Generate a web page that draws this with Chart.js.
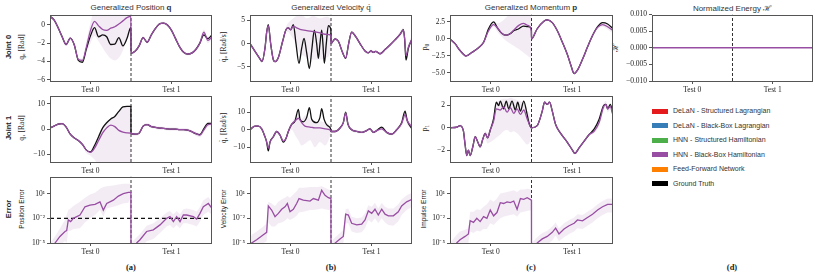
<!DOCTYPE html>
<html>
<head>
<meta charset="utf-8">
<script src="https://cdn.jsdelivr.net/npm/chart.js@4.4.0/dist/chart.umd.min.js"></script>
<style>
  body { margin: 0; width: 830px; height: 277px; position: relative; overflow: hidden; background: #fff; }
  canvas { position: absolute; }
  .t { position: absolute; white-space: nowrap; color: #222; transform: translate(-50%, -50%); }
  .r { transform: translate(-50%, -50%) rotate(-90deg); }
  .sans { font-family: 'Liberation Sans', sans-serif; }
  .serif { font-family: 'Liberation Serif', serif; }
  .leg { position: absolute; left: 652px; font: 7px 'Liberation Sans', sans-serif; color: #333; }
  .leg span { display: inline-block; width: 16px; height: 5px; margin-right: 5px; vertical-align: middle; }
</style>
</head>
<body>
<script>
// x axis: Test 0 on [0,1], Test 1 on [1,2]
const tickLabels = ['Test 0', 'Test 1'];

const gridT = [0,0.05,0.1,0.15,0.2,0.25,0.3,0.35,0.4,0.45,0.5,0.55,0.6,0.65,0.7,0.75,0.8,0.85,0.9,0.95,0.999,
  1,1.05,1.1,1.15,1.2,1.25,1.3,1.35,1.4,1.45,1.5,1.55,1.6,1.65,1.7,1.75,1.8,1.85,1.9,1.95,2];

// Generalized position, joint 0 / joint 1
const posJ0Pred = [0.95,0.55,-0.3,-1.3,-2.15,-1.45,-2.2,-3.8,-3.9,-2.4,-0.6,0.4,-0.1,-0.5,-0.6,-0.35,-0.2,0.1,0.45,0.8,0.95,
  -3.1,-2.9,-2.3,-1.4,-1.9,-1.1,-0.4,0.1,0.2,0.0,-0.6,-1.5,-2.4,-3.0,-3.2,-3.1,-2.7,-2.0,-0.8,-1.7,-1.3];
const posJ0True = [0.95,0.55,-0.3,-1.3,-2.15,-1.45,-2.2,-3.9,-4.1,-2.6,-1.2,-0.3,-1.3,-1.1,-1.3,-2.15,-2.1,-1.4,-2.3,-1.5,-0.25,
  -3.1,-2.9,-2.3,-1.4,-1.9,-1.1,-0.4,0.1,0.2,0.0,-0.6,-1.5,-2.4,-3.0,-3.2,-3.1,-2.7,-2.0,-1.1,-1.5,-1.1];
const posJ0Lo = [0.8,0.4,-0.45,-1.45,-2.3,-1.6,-2.35,-3.95,-4.1,-3.0,-2.0,-1.2,-1.8,-2.5,-3.2,-3.7,-3.9,-3.6,-2.8,-1.5,0.3,
  -3.25,-3.05,-2.45,-1.6,-2.05,-1.25,-0.55,-0.05,0.05,-0.15,-0.75,-1.65,-2.55,-3.15,-3.35,-3.25,-2.85,-2.2,-1.2,-2.0,-1.6];
const posJ0Hi = [1.1,0.7,-0.15,-1.15,-2.0,-1.3,-2.05,-3.6,-3.7,-1.8,0.3,1.5,1.5,1.5,1.5,1.5,1.5,1.5,1.5,1.5,1.5,
  -2.95,-2.75,-2.15,-1.2,-1.75,-0.95,-0.25,0.25,0.35,0.15,-0.45,-1.35,-2.25,-2.85,-3.05,-2.95,-2.55,-1.8,-0.5,-1.4,-1.0];

const posJ1Pred = [0.5,1.2,2.0,2.2,0.8,-2.0,-3.5,-4.5,-6.0,-8.3,-9.2,-7.5,-4.5,-1.5,0.5,1.6,1.0,-0.5,-1.2,-1.5,-1.6,
  -1.7,-2.0,-1.6,1.2,1.8,1.0,0.7,0.4,0.3,0.1,0.0,0.0,-0.2,-0.2,-0.4,-1.0,-1.8,-2.4,-0.3,1.8,2.0];
const posJ1True = [0.5,1.2,2.0,2.2,0.8,-2.0,-3.5,-4.5,-6.0,-8.3,-9.0,-6.5,-3.0,0.5,2.5,4.0,5.0,7.0,8.8,9.0,9.0,
  -1.7,-2.0,-1.6,1.2,1.8,1.0,0.7,0.4,0.3,0.1,0.0,0.0,-0.2,-0.2,-0.4,-1.0,-1.8,-2.2,0.2,2.3,2.3];
const posJ1Lo = [0.1,0.8,1.6,1.8,0.4,-2.4,-3.9,-4.9,-7.0,-9.5,-10.5,-12,-14,-14,-14,-14,-14,-14,-14,-14,-14,
  -2.3,-2.6,-2.2,0.6,1.2,0.4,0.1,-0.2,-0.3,-0.5,-0.6,-0.6,-0.8,-0.8,-1.0,-1.6,-2.6,-3.2,-1.2,0.8,1.0];
const posJ1Hi = [0.9,1.6,2.4,2.6,1.2,-1.6,-3.1,-4.1,-5.6,-8.0,-8.8,-6.5,-3.0,0.5,2.5,4.0,5.0,6.8,8.5,8.8,8.8,
  -1.1,-1.4,-1.0,1.8,2.4,1.6,1.3,1.0,0.9,0.7,0.6,0.6,0.4,0.4,0.2,-0.4,-1.0,-1.6,0.6,2.8,3.0];

// Generalized velocity, joint 0
const velJ0PredX = [0,0.062,0.123,0.148,0.185,0.206,0.226,0.255,0.288,0.309,0.35,0.403,0.444,0.473,0.502,0.535,0.576,0.617,0.7,0.782,0.864,0.947,0.999,
  1,1.049,1.091,1.144,1.181,1.218,1.255,1.305,1.358,1.42,1.461,1.494,1.523,1.551,1.605,1.667,1.728,1.79,1.852,1.893,1.909,1.926,1.955,2];
const velJ0Pred = [0,-1.7,-3.3,-3.9,-1.0,2.5,3.9,0.0,-3.5,-3.9,-3.0,0.5,3.0,3.4,3.0,3.8,3.4,3.1,2.8,2.6,2.3,2.0,1.8,
  0,1.0,0.5,-2,-3.1,0,2.5,1.5,0,-1.6,-2.0,-1.6,-1.9,-1.7,-2.2,-1.3,-0.3,0.8,2.0,2.9,1.2,-2.6,-0.8,1.0];
const velJ0Lo = [-0.2,-1.9,-3.5,-4.1,-1.3,2.2,3.6,-0.3,-3.8,-4.2,-3.3,0.2,2.5,2.5,1.8,1.0,-0.5,-2.0,-3.0,-3.5,-3.5,-3.0,-1.0,
  -0.3,0.7,0.2,-2.3,-3.4,-0.3,2.2,1.2,-0.3,-1.9,-2.3,-1.9,-2.2,-2.0,-2.5,-1.6,-0.6,0.4,1.5,2.3,0.4,-3.4,-1.6,0.2];
const velJ0Hi = [0.2,-1.5,-3.1,-3.7,-0.7,2.8,4.3,0.3,-3.2,-3.6,-2.7,0.8,3.6,4.5,5.0,5.5,6.0,6.5,5.5,6.0,5.5,5.8,5.0,
  0.3,1.3,0.8,-1.7,-2.8,0.3,2.8,1.8,0.3,-1.3,-1.7,-1.3,-1.6,-1.4,-1.9,-1.0,0.0,1.2,2.5,3.5,2.0,-1.8,0.0,1.8];
const velJ0TrueX = [0,0.062,0.123,0.148,0.185,0.206,0.226,0.255,0.288,0.309,0.35,0.403,0.444,0.473,0.502,0.535,0.568,0.605,0.638,0.667,
  0.7,0.733,0.765,0.794,0.823,0.844,0.864,0.885,0.9,0.918,0.942,0.967,0.999,
  1,1.049,1.091,1.144,1.181,1.218,1.255,1.305,1.358,1.42,1.461,1.494,1.523,1.551,1.605,1.667,1.728,1.79,1.852,1.893,1.909,1.926,1.955,2];
const velJ0True = [0,-1.7,-3.3,-3.9,-1.0,2.5,4.1,0.0,-3.5,-3.9,-3.0,0.5,3.0,3.4,3.0,4.1,0,-4.3,-1.0,1.1,
  -2.0,-5.4,-1.0,2.9,0,-3.2,0,2.9,0,-4.3,0,3.9,3.0,
  0,1.0,0.5,-2,-3.2,0,2.5,1.5,0,-1.6,-2.0,-1.6,-1.9,-1.7,-2.2,-1.3,-0.3,0.8,2.0,3.0,1.0,-3.6,-1.0,1.0];

// Generalized velocity, joint 1
const velJ1PredX = [0,0.062,0.103,0.144,0.185,0.206,0.226,0.247,0.288,0.329,0.37,0.412,0.444,0.473,0.514,0.556,0.597,0.638,0.679,0.741,0.802,0.864,0.926,0.999,
  1,1.049,1.111,1.152,1.181,1.21,1.255,1.317,1.379,1.44,1.481,1.523,1.564,1.626,1.687,1.749,1.811,1.872,1.914,1.942,2];
const velJ1Pred = [0,2,2,0.5,-4,-7,-10.5,-7,-4,-1,-3,-6.5,-5,-1,3,5,6.5,4,2,1.5,1.0,1.0,0.5,-0.5,
  -1,-1,1,4,9.5,3,0,-1,-1.5,-0.5,0.5,-1.5,-0.5,0.5,-1.5,-2.5,0,3.5,8.5,5,1.5];
const velJ1Lo = [-0.5,1.5,1.5,0,-4.5,-7.5,-11,-7.5,-4.5,-1.5,-3.5,-7.5,-6,-2,0,-3,-6,-9,-8,-6,-10,-7,-9,-2,
  -1.8,-1.8,0.2,3.2,8.5,2.2,-0.8,-1.8,-2.3,-1.3,-0.3,-2.3,-1.3,-0.3,-2.3,-3.3,-1.0,2,6.5,3,0];
const velJ1Hi = [0.5,2.5,2.5,1,-3.5,-6.5,-10,-6.5,-3.5,-0.5,-2.5,-5.5,-4,0,4,7,8,6,8,6,5,5,4,0.5,
  -0.2,-0.2,1.8,4.8,10.5,3.8,0.8,-0.2,-0.7,0.3,1.3,-0.7,0.3,1.3,-0.7,-1.7,1.0,5,10.5,7,3];
const velJ1TrueX = [0,0.062,0.103,0.144,0.185,0.206,0.226,0.247,0.288,0.329,0.37,0.412,0.444,0.473,0.514,0.556,0.597,0.617,0.658,0.7,
  0.733,0.761,0.823,0.864,0.885,0.914,0.967,0.999,
  1,1.049,1.111,1.152,1.181,1.21,1.255,1.317,1.379,1.44,1.481,1.523,1.564,1.626,1.687,1.749,1.811,1.872,1.914,1.942,2];
const velJ1True = [0,2,2,0.5,-4,-7,-12,-7,-4,-1,-3,-7,-5,-1,3,5,11.5,6,4.5,7,
  12.5,6,4,7,12,6,2,0,
  -1,-1,1,4,10,3,0,-1,-1.5,-0.5,0.5,-1.5,-0.5,1.5,-1.5,-2.5,0,4,10.5,5,0.5];

// Generalized momentum, joint 0
const momJ0X = [0,0.062,0.123,0.198,0.267,0.35,0.412,0.473,0.535,0.584,0.638,0.691,0.741,0.782,0.844,0.9,0.955,0.999,
  1,1.07,1.152,1.193,1.255,1.317,1.379,1.44,1.481,1.523,1.564,1.626,1.687,1.749,1.811,1.872,1.934,2];
const momJ0True = [0,-0.7,-1.7,-2.5,-2.0,-1.3,-0.5,1.5,2.5,1.6,0.8,0.55,0.8,1.2,1.5,1.9,1.8,1.6,
  0.0,1.5,2.6,2.8,2.4,1.2,-0.5,-2.3,-3.8,-5.1,-4.6,-3.0,-1.2,0.5,1.8,2.4,2.2,1.5];
const momJ0Pred = [0,-0.7,-1.7,-2.5,-2.0,-1.3,-0.5,1.2,2.1,1.6,0.8,0.55,0.8,1.3,2.0,2.3,2.0,1.1,
  0.0,1.5,2.6,2.8,2.4,1.2,-0.5,-2.3,-3.8,-5.1,-4.6,-3.0,-1.2,0.5,1.7,2.1,1.8,1.2];
const momJ0Lo = [-0.1,-0.8,-1.8,-2.6,-2.1,-1.4,-0.6,1.0,1.8,1.0,0.3,-0.3,-0.7,-1.0,-1.5,-2.0,-2.5,-2.8,
  -0.1,1.4,2.5,2.7,2.3,1.1,-0.6,-2.4,-3.9,-5.2,-4.7,-3.1,-1.3,0.4,1.5,1.8,1.4,0.8];
const momJ0Hi = [0.1,-0.6,-1.6,-2.4,-1.9,-1.2,-0.4,1.4,2.6,2.3,2.6,3.2,3.8,3.8,3.8,3.8,3.8,3.8,
  0.1,1.6,2.7,2.9,2.5,1.3,-0.4,-2.2,-3.7,-5.0,-4.5,-2.9,-1.1,0.6,1.9,2.4,2.2,1.6];

// Generalized momentum, joint 1
const momJ1PredX = [0,0.082,0.123,0.165,0.185,0.206,0.226,0.247,0.28,0.309,0.337,0.37,0.403,0.432,0.461,0.494,0.535,0.568,0.617,0.658,
  0.7,0.741,0.782,0.823,0.864,0.905,0.947,0.999,
  1,1.07,1.132,1.16,1.193,1.222,1.255,1.296,1.358,1.44,1.502,1.531,1.584,1.646,1.708,1.77,1.831,1.885,1.914,1.934,1.967,2];
const momJ1Pred = [0,0.05,0.2,-0.3,-1.5,-2.5,-2.0,-2.5,-1.7,-0.8,-1.2,-1.7,-1.0,-0.5,-0.9,-0.2,0.6,1.7,1.6,1.9,
  1.4,1.8,1.3,1.7,1.2,1.6,0.8,0.0,
  0,0.2,1.5,2.3,2.1,2.3,1.5,0.3,-0.5,-1.3,-2.0,-2.3,-1.8,-1.2,-0.6,-0.3,0.5,1.9,2.1,1.7,1.9,1.1];
const momJ1Lo = [-0.1,-0.05,0.1,-0.4,-1.6,-2.6,-2.1,-2.6,-1.8,-0.9,-1.3,-1.8,-1.1,-1.0,-1.4,-1.3,-1.1,-0.9,-0.6,-0.3,
  -0.2,-0.4,-0.3,-0.5,-0.8,-1.2,-1.5,-0.5,
  -0.1,0.1,1.4,2.2,2.0,2.2,1.4,0.2,-0.6,-1.4,-2.1,-2.4,-1.9,-1.3,-0.7,-0.5,0.2,1.6,1.8,1.4,1.6,0.8];
const momJ1Hi = [0.1,0.15,0.3,-0.2,-1.4,-2.4,-1.9,-2.4,-1.6,-0.7,-1.1,-1.6,-0.9,-0.3,-0.5,0.2,1.2,2.2,2.5,2.6,
  2.6,2.7,2.6,2.5,2.4,2.1,1.5,0.5,
  0.1,0.3,1.6,2.4,2.2,2.4,1.6,0.4,-0.4,-1.2,-1.9,-2.2,-1.7,-1.1,-0.5,-0.1,0.8,2.2,2.4,2.0,2.2,1.4];
const momJ1TrueX = [0,0.082,0.123,0.165,0.185,0.206,0.226,0.247,0.28,0.309,0.337,0.37,0.403,0.432,0.461,0.494,0.535,0.568,0.597,0.617,
  0.658,0.691,0.72,0.761,0.802,0.831,0.864,0.905,0.938,0.967,0.999,
  1,1.07,1.132,1.16,1.193,1.222,1.255,1.296,1.358,1.44,1.502,1.531,1.584,1.646,1.708,1.77,1.831,1.885,1.914,1.934,1.967,2];
const momJ1True = [0,0.05,0.2,-0.3,-1.5,-2.5,-2.0,-2.5,-1.7,-0.8,-1.2,-1.7,-1.0,-0.5,-0.9,-0.2,0.8,2.3,2.0,2.4,
  1.7,2.4,1.7,2.4,1.6,2.3,1.5,2.4,1.5,0.5,0.0,
  0,0.2,1.5,2.3,2.1,2.3,1.5,0.3,-0.5,-1.3,-2.0,-2.3,-1.8,-1.2,-0.6,-0.1,0.8,2.0,2.1,1.7,2.1,1.2];

// Errors, stored as log10 of the value
const posErrX = [0,0.062,0.123,0.185,0.206,0.226,0.255,0.288,0.37,0.432,0.494,0.556,0.617,0.658,0.7,0.782,0.844,0.905,0.967,0.999,
  1,1.07,1.111,1.193,1.276,1.358,1.44,1.481,1.523,1.564,1.605,1.646,1.687,1.77,1.811,1.852,1.893,1.955,2];
const posErrLog = [-6,-5,-4.2,-3.6,-3.5,-2.2,-2.4,-2.0,-1.6,-0.6,-0.4,-0.3,0.0,-1.0,-0.2,0.2,0.7,1.0,1.15,1.15,
  -6,-5,-4.6,-3.6,-3.4,-2.8,-2.0,-1.8,-2.4,-1.8,-2.4,-1.6,-1.6,-1.8,-2.1,-1.4,-0.6,-0.2,-0.8];
const posErrLoLog = [-7,-6,-5.2,-4.8,-5,-3.5,-3.5,-3.3,-3.2,-2.5,-2.0,-1.6,-1.0,-1.8,-0.8,-0.6,-0.4,-0.2,-0.1,0.5,
  -7,-6.2,-5.8,-4.8,-4.5,-3.8,-3.0,-2.8,-3.2,-2.8,-3.2,-2.6,-2.6,-2.8,-3.0,-2.4,-1.6,-1.2,-1.6];
const posErrHiLog = [-5,-4.2,-3.2,-2.2,-1.6,-1.0,-0.8,-0.5,0.0,0.5,0.9,1.1,1.6,1.8,1.9,2.0,2.1,2.2,2.2,2.2,
  -5,-4.3,-3.9,-2.9,-2.6,-2.0,-1.3,-1.1,-1.5,-1.1,-1.5,-0.9,-0.8,-1.0,-1.2,-0.6,0.2,0.6,0.0];

const velErrX = [0,0.021,0.082,0.165,0.206,0.226,0.267,0.309,0.35,0.391,0.432,0.461,0.494,0.535,0.576,0.605,0.658,0.741,0.782,0.844,0.885,0.926,0.967,0.999,
  1,1.029,1.111,1.152,1.181,1.214,1.255,1.317,1.379,1.42,1.461,1.502,1.543,1.584,1.626,1.667,1.708,1.77,1.831,1.872,1.934,2];
const velErrLog = [-5.5,-5,-4.6,-4.0,-3.7,-0.5,-1.0,-1.8,-1.4,-0.9,-0.6,-0.2,-1.2,-0.9,-0.2,0.4,0.2,0.1,0.4,0.2,1.4,0.8,0.5,0.4,
  -6,-5.2,-4.5,-4.2,-1.5,-1.6,-2.6,-2.8,-2.7,-2.2,-1.1,-1.4,-0.9,-1.6,-0.9,-1.5,-1.7,-1.7,-1.2,-0.5,0.0,0.3];
const velErrLoLog = [-6.5,-6,-5.6,-5,-4.8,-2.5,-3,-3,-2.6,-2.5,-2.3,-2,-2.2,-2,-1.7,-1.3,-1.2,-1,-1,-0.9,-0.8,-0.9,-1,-1,
  -7,-6.1,-5.4,-5.1,-2.6,-2.6,-3.6,-3.8,-3.7,-3.2,-2.2,-2.5,-2.0,-2.6,-2.0,-2.5,-2.8,-2.9,-2.4,-1.6,-1.0,-0.6];
const velErrHiLog = [-4.5,-4,-3.6,-3,-2.6,0,-0.2,-0.5,0,0.3,0.5,0.7,0.5,0.9,1.3,1.7,1.7,1.8,1.8,1.8,1.9,1.7,1.5,1.4,
  -5,-4.5,-3.8,-3.4,-0.9,-0.8,-1.8,-2.0,-1.9,-1.4,-0.4,-0.6,-0.1,-0.8,-0.1,-0.6,-0.8,-0.8,-0.3,0.3,0.8,1.1];

const impErrX = [0,0.082,0.123,0.185,0.226,0.247,0.288,0.329,0.37,0.412,0.453,0.494,0.535,0.576,0.617,0.658,0.7,0.741,0.782,0.823,0.864,0.905,0.947,0.999,
  1,1.07,1.132,1.193,1.255,1.296,1.337,1.399,1.461,1.523,1.564,1.626,1.687,1.749,1.811,1.872,1.934,2];
const impErrLog = [-6,-5,-4.6,-4.2,-3.9,-2.3,-2.5,-2.0,-2.4,-1.8,-2.0,-1.0,-1.7,-1.3,-0.1,-0.2,0.0,-0.1,0.1,-0.9,0.4,0.3,0.5,0.2,
  -6,-5,-4.5,-4.2,-3.7,-3.2,-3.9,-3.3,-2.9,-2.6,-2.2,-2.3,-1.9,-1.5,-1.0,-0.6,-0.3,-0.3];
const impErrLoLog = [-7,-6,-5.6,-5.2,-5,-3.6,-3.8,-3.5,-3.6,-3.3,-3.3,-2.6,-2.8,-2.4,-2,-1.8,-1.7,-1.6,-1.5,-1.8,-1.3,-1.2,-1.1,-1,
  -7,-6,-5.5,-5.2,-4.7,-4.1,-4.8,-4.3,-3.9,-3.6,-3.2,-3.3,-2.9,-2.5,-2.0,-1.6,-1.3,-1.3];
const impErrHiLog = [-5,-4,-3.6,-3.4,-3.2,-1.2,-1.2,-0.9,-1,-0.6,-0.3,0.3,0,0.4,1,1.1,1.2,1.3,1.4,1.2,1.5,1.5,1.6,1.5,
  -5,-4.3,-3.8,-3.5,-3.0,-2.5,-3.2,-2.6,-2.2,-1.9,-1.5,-1.6,-1.2,-0.8,-0.3,0.1,0.4,0.4];

// Normalized energy
const energyX = [0, 2];
const energyPred = [0, 0];

const PURPLE = '#984ea3';
const BAND = 'rgba(152,78,163,0.11)';
const AXW = 40, PADT = 6, PADR = 4, AXH = 16;

Chart.defaults.font.family = "'Liberation Serif', serif";
Chart.defaults.font.size = 7.5;
Chart.defaults.color = '#222';

const framePlugin = {
  id: 'frame',
  afterDatasetsDraw(chart) {
    const a = chart.chartArea, ctx = chart.ctx;
    ctx.save();
    ctx.strokeStyle = '#555';
    ctx.lineWidth = 1;
    ctx.strokeRect(Math.round(a.left) + 0.5, Math.round(a.top) + 0.5,
      Math.round(a.right - a.left) - 1, Math.round(a.bottom - a.top) - 1);
    ctx.restore();
  }
};

function makeChart(p) {
  const cv = document.createElement('canvas');
  cv.width = p.w + AXW + PADR;
  cv.height = p.h + PADT + AXH;
  cv.style.left = (p.left - AXW) + 'px';
  cv.style.top = (p.top - PADT) + 'px';
  document.body.appendChild(cv);

  const tf = p.log ? (v => Math.pow(10, v)) : (v => v);
  const pts = (xs, ys) => xs.map((x, i) => ({ x: x, y: tf(ys[i]) }));
  const curve = p.log ? { tension: 0 } : { cubicInterpolationMode: 'monotone' };
  const none = 'rgba(0,0,0,0)';

  const ds = [];
  if (p.lo) {
    ds.push(Object.assign({ data: pts(p.px, p.lo), borderColor: none, borderWidth: 0, fill: false, order: 5 }, curve));
    ds.push(Object.assign({ data: pts(p.px, p.hi), borderColor: none, borderWidth: 0, fill: { target: 0 }, backgroundColor: BAND, order: 4 }, curve));
  }
  ds.push({ data: [{ x: 1, y: p.min }, { x: 1, y: p.max }], borderColor: '#333', borderWidth: 1, borderDash: [3, 2], tension: 0, order: 3 });
  if (p.hline) {
    ds.push({ data: [{ x: 0, y: p.hline }, { x: 2, y: p.hline }], borderColor: '#111', borderWidth: 1.3, borderDash: [4, 3], tension: 0, order: 2 });
  }
  if (p.truth) {
    ds.push(Object.assign({ data: pts(p.tx, p.truth), borderColor: '#111', borderWidth: 1.3, order: 1 }, curve));
  }
  ds.push(Object.assign({ data: pts(p.px, p.pred), borderColor: PURPLE, borderWidth: 1.3, order: 0 }, curve));

  new Chart(cv, {
    type: 'line',
    data: { datasets: ds },
    options: {
      responsive: false,
      animation: false,
      devicePixelRatio: 1,
      layout: { padding: { top: PADT, right: PADR, left: 0, bottom: 0 } },
      elements: { point: { radius: 0 } },
      plugins: { legend: { display: false }, tooltip: { enabled: false } },
      scales: {
        x: {
          type: 'linear', min: 0, max: 2,
          afterBuildTicks: s => { s.ticks = [{ value: 0.5 }, { value: 1.5 }]; },
          afterFit: s => { s.height = AXH; },
          ticks: { autoSkip: false, maxRotation: 0, padding: 2, callback: (v, i) => tickLabels[i] },
          grid: { drawOnChartArea: false, drawTicks: true, tickLength: 3, color: '#555' },
          border: { display: false }
        },
        y: {
          type: p.log ? 'logarithmic' : 'linear',
          min: p.min, max: p.max,
          afterBuildTicks: s => { s.ticks = p.ticks.map(v => ({ value: v })); },
          afterFit: s => { s.width = AXW; },
          ticks: { autoSkip: false, padding: 2, callback: (v, i) => p.labels[i] },
          grid: { drawOnChartArea: false, drawTicks: true, tickLength: 3, color: '#555' },
          border: { display: false }
        }
      }
    },
    plugins: [framePlugin]
  });
}

const logTicks = [10, 1e-2, 1e-5];
const logLabels = ['10\u00b9', '10\u207b\u00b2', '10\u207b\u2075'];
const logMax = 1200;

const panels = [
  { left: 50, top: 14, w: 162, h: 67, min: -6.16, max: 1.15, ticks: [0, -2, -4, -6], labels: ['0', '\u22122', '\u22124', '\u22126'],
    px: gridT, pred: posJ0Pred, lo: posJ0Lo, hi: posJ0Hi, tx: gridT, truth: posJ0True },
  { left: 50, top: 95, w: 162, h: 67, min: -13, max: 13.3, ticks: [10, 0, -10], labels: ['10', '0', '\u221210'],
    px: gridT, pred: posJ1Pred, lo: posJ1Lo, hi: posJ1Hi, tx: gridT, truth: posJ1True },
  { left: 50, top: 176, w: 162, h: 67, log: true, min: 1e-5, max: logMax, ticks: logTicks, labels: logLabels, hline: 1e-2,
    px: posErrX, pred: posErrLog, lo: posErrLoLog, hi: posErrHiLog },
  { left: 250, top: 14, w: 162, h: 67, min: -8.1, max: 6.3, ticks: [5, 0, -5], labels: ['5', '0', '\u22125'],
    px: velJ0PredX, pred: velJ0Pred, lo: velJ0Lo, hi: velJ0Hi, tx: velJ0TrueX, truth: velJ0True },
  { left: 250, top: 95, w: 162, h: 67, min: -18.3, max: 19.4, ticks: [10, 0, -10], labels: ['10', '0', '\u221210'],
    px: velJ1PredX, pred: velJ1Pred, lo: velJ1Lo, hi: velJ1Hi, tx: velJ1TrueX, truth: velJ1True },
  { left: 250, top: 176, w: 162, h: 67, log: true, min: 1e-5, max: logMax, ticks: logTicks, labels: logLabels,
    px: velErrX, pred: velErrLog, lo: velErrLoLog, hi: velErrHiLog },
  { left: 450, top: 14, w: 163, h: 67, min: -6.2, max: 3.6, ticks: [2.5, 0, -2.5, -5], labels: ['2.5', '0.0', '\u22122.5', '\u22125.0'],
    px: momJ0X, pred: momJ0Pred, lo: momJ0Lo, hi: momJ0Hi, tx: momJ0X, truth: momJ0True },
  { left: 450, top: 95, w: 163, h: 67, min: -3.07, max: 2.9, ticks: [2, 0, -2], labels: ['2', '0', '\u22122'],
    px: momJ1PredX, pred: momJ1Pred, lo: momJ1Lo, hi: momJ1Hi, tx: momJ1TrueX, truth: momJ1True },
  { left: 450, top: 176, w: 163, h: 67, log: true, min: 1e-5, max: logMax, ticks: logTicks, labels: logLabels,
    px: impErrX, pred: impErrLog, lo: impErrLoLog, hi: impErrHiLog },
  { left: 652, top: 14, w: 161, h: 67, min: -0.01, max: 0.01, ticks: [0.01, 0.005, 0, -0.005, -0.01],
    labels: ['0.010', '0.005', '0.000', '\u22120.005', '\u22120.010'], px: energyX, pred: energyPred }
];

function addText(txt, x, y, cls, style) {
  const d = document.createElement('div');
  d.className = 't ' + cls;
  d.style.left = x + 'px';
  d.style.top = y + 'px';
  d.style.cssText += style;
  d.innerHTML = txt;
  document.body.appendChild(d);
}

// titles
addText('Generalized Position <b>q</b>', 131, 7, 'sans', 'font-size:8px;color:#333;');
addText('Generalized Velocity <span class="serif" style="font-size:9px">q\u0307</span>', 331, 7, 'sans', 'font-size:8px;color:#333;');
addText('Generalized Momentum <b>p</b>', 531, 7, 'sans', 'font-size:8px;color:#333;');
addText('Normalized Energy <span class="serif">\u210b</span>', 732, 7, 'sans', 'font-size:8px;color:#333;');

// row labels
addText('Joint 0', 8, 47, 'sans r', 'font-size:7.5px;font-weight:bold;');
addText('Joint 1', 8, 128, 'sans r', 'font-size:7.5px;font-weight:bold;');
addText('Error', 8, 209, 'sans r', 'font-size:7.5px;font-weight:bold;');

// y axis titles
addText('q\u2080 [Rad]', 21, 47, 'serif r', 'font-size:7.5px;');
addText('q\u2081 [Rad]', 21, 128, 'serif r', 'font-size:7.5px;');
addText('Position Error', 21, 209, 'sans r', 'font-size:6.5px;');
addText('q\u0307\u2080 [Rad/s]', 223, 47, 'serif r', 'font-size:7.5px;');
addText('q\u0307\u2081 [Rad/s]', 223, 128, 'serif r', 'font-size:7.5px;');
addText('Velocity Error', 223, 209, 'sans r', 'font-size:6.5px;');
addText('p\u2080', 424, 47, 'serif r', 'font-size:8px;');
addText('p\u2081', 424, 128, 'serif r', 'font-size:8px;');
addText('Impulse Error', 423, 209, 'sans r', 'font-size:6.5px;');
addText('\u210b', 614, 47.5, 'serif r', 'font-size:8px;');

// subfigure labels
addText('(a)', 131, 267, 'serif', 'font-size:8.5px;font-weight:bold;');
addText('(b)', 331, 267, 'serif', 'font-size:8.5px;font-weight:bold;');
addText('(c)', 531, 267, 'serif', 'font-size:8.5px;font-weight:bold;');
addText('(d)', 732, 267, 'serif', 'font-size:8.5px;font-weight:bold;');

// legend
const legendNames = ['DeLaN - Structured Lagrangian', 'DeLaN - Black-Box Lagrangian', 'HNN - Structured Hamiltonian',
  'HNN - Black-Box Hamiltonian', 'Feed-Forward Network', 'Ground Truth'];
const legendColors = ['#e41a1c', '#377eb8', '#4daf4a', '#984ea3', '#ff7f00', '#000000'];
legendNames.forEach((n, i) => {
  const d = document.createElement('div');
  d.className = 'leg';
  d.style.top = (107 + i * 14.5) + 'px';
  d.innerHTML = '<span style="background:' + legendColors[i] + '"></span>' + n;
  document.body.appendChild(d);
});

panels.forEach(makeChart);
</script>
</body>
</html>
